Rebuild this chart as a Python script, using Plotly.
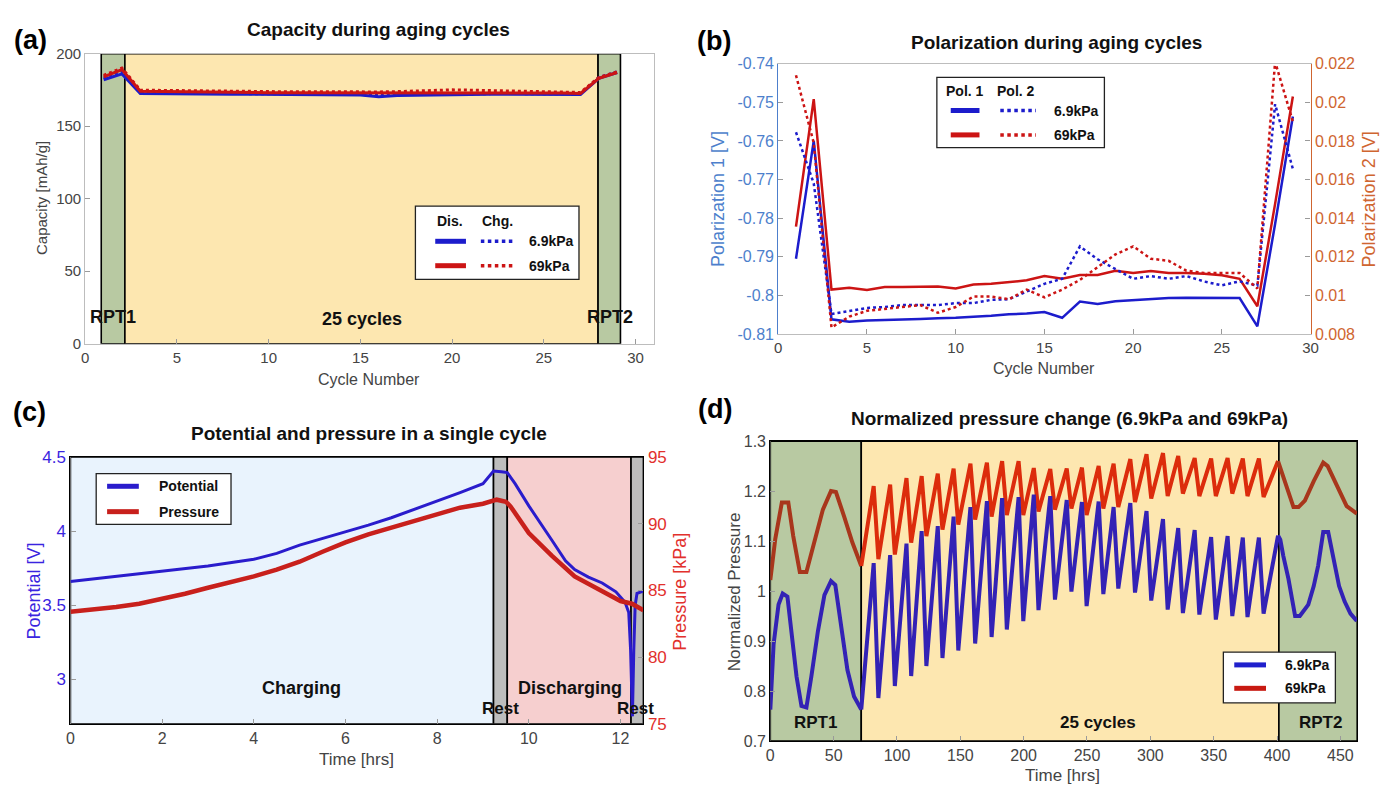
import plotly.graph_objects as go

W, H = 1387, 793
FONT = "Liberation Sans, Arial, sans-serif"
BOLD_FONT = "Liberation Sans, Arial, sans-serif"


def px(x):
    return x / W


def py(y):
    return 1 - y / H


# ---------------- (a) Capacity during aging cycles ----------------
cycles_a = list(range(1, 30))
cap_dis_69k = [182, 186, 172.5, 172.3, 172.2, 172.1, 172.0, 172.0, 172.0, 171.9, 171.9, 171.8, 171.8, 171.7, 171.5,
               170.3, 171.2, 171.3, 171.6, 171.8, 171.9, 172.0, 172.0, 172.0, 171.9, 171.8, 171.8, 183.0, 187.0]
cap_chg_69k = [183, 187.5, 173.0, 172.8, 172.7, 172.6, 172.5, 172.5, 172.4, 172.4, 172.4, 172.3, 172.3, 172.2, 172.0,
               171.0, 171.8, 172.0, 172.2, 172.3, 172.4, 172.5, 172.5, 172.4, 172.4, 172.3, 172.3, 183.5, 187.5]
cap_dis_69 = [184, 189, 174.0, 173.8, 173.6, 173.5, 173.4, 173.3, 173.2, 173.1, 173.0, 173.0, 173.0, 172.9, 172.9,
              172.8, 172.9, 173.0, 173.2, 173.3, 173.3, 173.2, 173.1, 173.0, 172.9, 172.8, 172.5, 183.0, 187.0]
cap_chg_69 = [185, 190, 174.8, 174.6, 174.4, 174.3, 174.2, 174.0, 173.9, 173.8, 173.7, 173.7, 173.6, 173.6, 173.5,
              173.6, 173.8, 174.2, 174.6, 175.0, 174.8, 174.6, 174.2, 174.0, 173.8, 173.5, 173.2, 183.5, 187.5]
a_phase_edges = [0.87, 2.16, 27.96, 29.18]

# ---------------- (b) Polarization during aging cycles ----------------
cycles_b = list(range(1, 30))
pol1_69k = [-0.7905, -0.7600, -0.8062, -0.8068, -0.8065, -0.8064, -0.8063, -0.8061, -0.8059, -0.8058, -0.8055,
            -0.8053, -0.8049, -0.8047, -0.8043, -0.8058, -0.8016, -0.8022, -0.8015, -0.8012, -0.8010, -0.8007,
            -0.8006, -0.8006, -0.8006, -0.8007, -0.8080, -0.7815, -0.7537]
pol1_69 = [-0.7822, -0.7492, -0.7985, -0.7980, -0.7986, -0.7978, -0.7978, -0.7977, -0.7977, -0.7982, -0.7972,
           -0.7970, -0.7965, -0.7961, -0.7950, -0.7957, -0.7947, -0.7947, -0.7936, -0.7942, -0.7937, -0.7942,
           -0.7942, -0.7944, -0.7948, -0.7957, -0.8028, -0.7763, -0.7485]
pol2_69k = [0.01845, 0.0158, 0.00904, 0.0092, 0.00935, 0.0094, 0.0095, 0.0095, 0.0095, 0.0096, 0.0096, 0.00977,
            0.0098, 0.0102, 0.0106, 0.01086, 0.01254, 0.01187, 0.01136, 0.01086, 0.0110, 0.01086, 0.0110, 0.01072,
            0.01052, 0.01073, 0.0105, 0.0199, 0.01655]
pol2_69 = [0.0214, 0.0179, 0.00834, 0.0089, 0.0092, 0.0093, 0.0094, 0.0095, 0.0091, 0.0094, 0.00994, 0.00994,
           0.0098, 0.0103, 0.0099, 0.0103, 0.0108, 0.01145, 0.01212, 0.01254, 0.0119, 0.01179, 0.01128, 0.01116,
           0.01116, 0.01116, 0.01036, 0.0221, 0.0190]

# ---------------- (c) Potential and pressure in a single cycle ----------------
pot_t = [0, 1, 2, 3, 4, 4.5, 5, 5.5, 6, 6.5, 7, 7.5, 8, 8.5, 9, 9.23, 9.4, 9.53, 9.7, 10.0, 10.5, 10.8, 11.0,
         11.3, 11.6, 11.9, 12.1, 12.18, 12.22, 12.26, 12.29, 12.32, 12.36, 12.5]
pot_v = [3.66, 3.695, 3.73, 3.765, 3.81, 3.85, 3.905, 3.95, 3.99, 4.04, 4.09, 4.145, 4.2, 4.26, 4.32, 4.405, 4.40,
         4.395, 4.32, 4.17, 3.94, 3.80, 3.74, 3.69, 3.65, 3.59, 3.52, 3.45, 3.2, 2.75, 3.2, 3.5, 3.58, 3.595]
pres_t = [0, 0.5, 1, 1.5, 2, 2.5, 3, 3.5, 4, 4.5, 5, 5.5, 6, 6.5, 7, 7.5, 8, 8.5, 9, 9.3, 9.5, 9.6, 10.0, 10.5,
          11.0, 11.5, 12.0, 12.25, 12.5]
pres_kpa = [83.4, 83.55, 83.75, 84.0, 84.35, 84.75, 85.2, 85.6, 86.05, 86.55, 87.15, 87.9, 88.6, 89.2, 89.7, 90.2,
            90.7, 91.2, 91.5, 91.8, 91.65, 91.3, 89.3, 87.6, 86.05, 85.1, 84.2, 84.0, 83.5]
c_phase_edges = [0, 9.23, 9.53, 12.23, 12.5]

# ---------------- (d) Normalized pressure change ----------------
rpt1_t_blue = [0, 2.6, 6.5, 9.8, 13.5, 16.8, 20.7, 24.6, 28.5, 32.4, 37.6, 42.7, 47.9, 51.3, 55.7, 60.9, 66.1, 71.8]
rpt1_blue = [0.763, 0.894, 0.973, 0.995, 0.989, 0.92, 0.829, 0.77, 0.767, 0.829, 0.92, 0.992, 1.02, 1.012, 0.933,
             0.842, 0.789, 0.763]
rpt1_t_red = [0, 3.9, 9.1, 14.2, 18.1, 23.3, 28.5, 35.0, 41.5, 47.9, 51.8, 58.3, 64.8, 71.8]
rpt1_red = [1.022, 1.104, 1.177, 1.177, 1.11, 1.038, 1.038, 1.104, 1.163, 1.2, 1.198, 1.149, 1.097, 1.05]

peak_t = [81.6, 94.6, 107.5, 119.5, 132.2, 144.7, 158.0, 171.0, 183.0, 196.0, 208.0, 221.0, 234.0, 246.0, 259.2,
          271.0, 284.2, 297.0, 310.0, 322.0, 335.0, 348.0, 361.0, 373.0, 385.7]
trough_t = [85.3, 98.3, 111.2, 123.2, 135.9, 148.4, 161.7, 174.7, 186.7, 199.7, 211.7, 224.7, 237.7, 249.7, 262.9,
            274.7, 287.9, 300.7, 313.7, 325.7, 338.7, 351.7, 364.7, 376.7, 389.4]
blue_peak = [1.056, 1.072, 1.095, 1.12, 1.13, 1.149, 1.168, 1.18, 1.186, 1.188, 1.193, 1.19, 1.182, 1.178, 1.179,
             1.168, 1.176, 1.16, 1.144, 1.126, 1.122, 1.108, 1.11, 1.107, 1.107]
blue_trough = [0.786, 0.81, 0.83, 0.85, 0.866, 0.881, 0.895, 0.908, 0.923, 0.94, 0.962, 0.983, 0.999, 0.97, 0.994,
               1.005, 0.997, 0.981, 0.963, 0.956, 0.953, 0.943, 0.95, 0.948, 0.955]
red_peak = [1.21, 1.213, 1.226, 1.23, 1.235, 1.245, 1.255, 1.257, 1.26, 1.26, 1.246, 1.244, 1.245, 1.247, 1.25,
            1.255, 1.264, 1.274, 1.276, 1.27, 1.266, 1.265, 1.266, 1.265, 1.265]
red_trough = [1.064, 1.073, 1.097, 1.11, 1.123, 1.133, 1.143, 1.149, 1.152, 1.152, 1.159, 1.163, 1.165, 1.152,
              1.165, 1.168, 1.178, 1.185, 1.19, 1.195, 1.19, 1.19, 1.195, 1.19, 1.188]

rpt2_t_blue = [400.8, 402.6, 405.0, 409.0, 414.3, 418.0, 424.7, 429.0, 432.5, 436.5, 440.4, 445.6, 449.0, 453.4,
               458.0, 463.0]
rpt2_blue = [1.111, 1.103, 1.07, 1.025, 0.95, 0.95, 0.973, 1.01, 1.051, 1.118, 1.118, 1.051, 1.01, 0.979, 0.955,
             0.94]
rpt2_t_red = [400.8, 406.5, 413.0, 417.0, 422.0, 429.0, 436.5, 440.0, 448.0, 455.0, 463.0]
rpt2_red = [1.26, 1.214, 1.168, 1.168, 1.181, 1.22, 1.257, 1.25, 1.208, 1.17, 1.155]
d_phase_edges = [0, 71.8, 401.5, 463.3]

# ---------------- colours ----------------
BLUE = "#1c1ccc"
RED = "#cc1414"
GREEN_BG = "#b8c9a2"
YELLOW_BG = "#fde7b0"
LBLUE_BG = "#e9f3fd"
PINK_BG = "#f6cfcf"
GREY_BG = "#bdbdbd"
D_BLUE = "#3322b5"
D_RED = "#dc2c0c"
D_RED_RPT = "#a8361c"
B_LEFT = "#4d7fcc"
B_RIGHT = "#cf6530"
C_LEFT = "#3a24e0"
C_RIGHT = "#e2302c"

fig = go.Figure()

# (a) traces
fig.add_trace(go.Scatter(x=cycles_a, y=cap_dis_69k, mode="lines", line=dict(color=BLUE, width=3), xaxis="x", yaxis="y"))
fig.add_trace(go.Scatter(x=cycles_a, y=cap_chg_69k, mode="lines", line=dict(color=BLUE, width=3, dash="dot"), xaxis="x", yaxis="y"))
fig.add_trace(go.Scatter(x=cycles_a, y=cap_dis_69, mode="lines", line=dict(color=RED, width=3), xaxis="x", yaxis="y"))
fig.add_trace(go.Scatter(x=cycles_a, y=cap_chg_69, mode="lines", line=dict(color=RED, width=3, dash="dot"), xaxis="x", yaxis="y"))

# (b) traces
fig.add_trace(go.Scatter(x=cycles_b, y=pol1_69k, mode="lines", line=dict(color=BLUE, width=2.5), xaxis="x2", yaxis="y2"))
fig.add_trace(go.Scatter(x=cycles_b, y=pol1_69, mode="lines", line=dict(color=RED, width=2.5), xaxis="x2", yaxis="y2"))
fig.add_trace(go.Scatter(x=cycles_b, y=pol2_69k, mode="lines", line=dict(color=BLUE, width=2.5, dash="dot"), xaxis="x2", yaxis="y3"))
fig.add_trace(go.Scatter(x=cycles_b, y=pol2_69, mode="lines", line=dict(color=RED, width=2.5, dash="dot"), xaxis="x2", yaxis="y3"))

# (c) traces
fig.add_trace(go.Scatter(x=pres_t, y=pres_kpa, mode="lines", line=dict(color="#c8201c", width=4.5), xaxis="x3", yaxis="y5"))
fig.add_trace(go.Scatter(x=pot_t, y=pot_v, mode="lines", line=dict(color="#2a1ccc", width=3), xaxis="x3", yaxis="y4"))

# (d) traces: interleave troughs/peaks of the 25 aging cycles
cyc_t, cyc_b, cyc_r = [rpt1_t_blue[-1]], [rpt1_blue[-1]], [rpt1_red[-1]]
for i in range(len(peak_t)):
    cyc_t += [peak_t[i], trough_t[i]]
    cyc_b += [blue_peak[i], blue_trough[i]]
    cyc_r += [red_peak[i], red_trough[i]]
cyc_t.append(rpt2_t_blue[0])
cyc_b.append(rpt2_blue[0])
cyc_r.append(rpt2_red[0])

for xs, ys, col in [(rpt1_t_red, rpt1_red, D_RED_RPT), (cyc_t, cyc_r, D_RED), (rpt2_t_red, rpt2_red, D_RED_RPT),
                    (rpt1_t_blue, rpt1_blue, D_BLUE), (cyc_t, cyc_b, D_BLUE), (rpt2_t_blue, rpt2_blue, D_BLUE)]:
    fig.add_trace(go.Scatter(x=xs, y=ys, mode="lines", line=dict(color=col, width=4), xaxis="x4", yaxis="y6"))

shapes = []


def band(xref, yref, x0, x1, y0, y1, color):
    shapes.append(dict(type="rect", xref=xref, yref=yref, x0=x0, x1=x1, y0=y0, y1=y1, fillcolor=color,
                       line=dict(color="black", width=1.6), layer="below"))


# (a) phases
band("x", "y", a_phase_edges[0], a_phase_edges[1], 0, 200, GREEN_BG)
band("x", "y", a_phase_edges[1], a_phase_edges[2], 0, 200, YELLOW_BG)
band("x", "y", a_phase_edges[2], a_phase_edges[3], 0, 200, GREEN_BG)
# (c) phases
c_cols = [LBLUE_BG, GREY_BG, PINK_BG, GREY_BG]
for i in range(4):
    band("x3", "y4", c_phase_edges[i], c_phase_edges[i + 1], 2.7, 4.5, c_cols[i])
# (d) phases
d_cols = [GREEN_BG, YELLOW_BG, GREEN_BG]
for i in range(3):
    band("x4", "y6", d_phase_edges[i], d_phase_edges[i + 1], 0.7, 1.3, d_cols[i])

annotations = []


def text(x, y, s, size=15, color="#444", bold=False, angle=0, xanchor="center", family=FONT, xref="paper", yref="paper"):
    annotations.append(dict(x=x, y=y, xref=xref, yref=yref, text=("<b>%s</b>" % s) if bold else s,
                            showarrow=False, textangle=angle, xanchor=xanchor, yanchor="middle",
                            font=dict(size=size, color=color, family=family)))


def legend_box(x0, y0, x1, y1):
    shapes.append(dict(type="rect", xref="paper", yref="paper", x0=px(x0), x1=px(x1), y0=py(y0), y1=py(y1),
                       fillcolor="white", line=dict(color="#222", width=1.3), layer="above"))


def legend_line(x0, x1, y, color, dash="solid", width=4):
    shapes.append(dict(type="line", xref="paper", yref="paper", x0=px(x0), x1=px(x1), y0=py(y), y1=py(y),
                       line=dict(color=color, width=width, dash=dash), layer="above"))


# panel labels
for lab, x, y in [("(a)", 27, 32), ("(b)", 716, 33), ("(c)", 26, 413), ("(d)", 717, 410)]:
    text(px(x), py(y), lab, size=27, color="black", bold=True, family=BOLD_FONT)

# titles
text(px(378), py(21), "Capacity during aging cycles", size=19, color="#111", bold=True)
text(px(1062), py(34), "Polarization during aging cycles", size=19, color="#111", bold=True)
text(px(368), py(435), "Potential and pressure in a single cycle", size=19, color="#111", bold=True)
text(px(1075), py(420), "Normalized pressure change (6.9kPa and 69kPa)", size=19, color="#111", bold=True)

# axis titles
text(px(38), py(194), "Capacity [mAh/g]", size=15, angle=-90)
text(px(368), py(380), "Cycle Number", size=16)
text(px(721), py(195), "Polarization 1 [V]", size=18, color=B_LEFT, angle=-90)
text(px(1377), py(195), "Polarization 2 [V]", size=18, color=B_RIGHT, angle=-90)
text(px(1049), py(368), "Cycle Number", size=16)
text(px(30), py(596), "Potential [V]", size=18, color=C_LEFT, angle=-90)
text(px(682), py(597), "Pressure [kPa]", size=18, color=C_RIGHT, angle=-90)
text(px(356), py(769), "Time [hrs]", size=17)
text(px(737), py(597), "Normalized Pressure", size=17, angle=-90)
text(px(1068), py(785), "Time [hrs]", size=17)

# in-plot labels
text(1.5, 18.8, "RPT1", size=18, color="#111", bold=True, xref="x", yref="y")
text(15.1, 16.8, "25 cycles", size=18, color="#111", bold=True, xref="x", yref="y")
text(28.6, 18.8, "RPT2", size=18, color="#111", bold=True, xref="x", yref="y")
text(5.04, 2.94, "Charging", size=18, color="#111", bold=True, xref="x3", yref="y4")
text(10.9, 2.94, "Discharging", size=18, color="#111", bold=True, xref="x3", yref="y4")
text(9.39, 2.805, "Rest", size=17, color="#111", bold=True, xref="x3", yref="y4")
text(12.33, 2.805, "Rest", size=17, color="#111", bold=True, xref="x3", yref="y4")
text(35.9, 0.737, "RPT1", size=17, color="#111", bold=True, xref="x4", yref="y6")
text(258.6, 0.737, "25 cycles", size=17, color="#111", bold=True, xref="x4", yref="y6")
text(434.4, 0.737, "RPT2", size=17, color="#111", bold=True, xref="x4", yref="y6")

# legend (a)
legend_box(415, 202, 580, 277)
text(px(450), py(217), "Dis.", size=14, color="#111", bold=True)
text(px(498), py(217), "Chg.", size=14, color="#111", bold=True)
legend_line(435, 466, 238, BLUE, width=5)
legend_line(481, 516, 238, BLUE, dash="dot", width=3.5)
text(px(528), py(238), "6.9kPa", size=14, color="#111", bold=True, xanchor="left")
legend_line(435, 466, 263, RED, width=5)
legend_line(481, 516, 263, RED, dash="dot", width=3.5)
text(px(528), py(263), "69kPa", size=14, color="#111", bold=True, xanchor="left")

# legend (b)
legend_box(941, 70, 1110, 142)
text(px(969), py(84), "Pol. 1", size=14, color="#111", bold=True)
text(px(1021), py(84), "Pol. 2", size=14, color="#111", bold=True)
legend_line(955, 984, 104, BLUE, width=5)
legend_line(1005, 1041, 104, BLUE, dash="dot", width=3.5)
text(px(1057), py(104), "6.9kPa", size=14, color="#111", bold=True, xanchor="left")
legend_line(955, 984, 129, RED, width=5)
legend_line(1005, 1041, 129, RED, dash="dot", width=3.5)
text(px(1057), py(129), "69kPa", size=14, color="#111", bold=True, xanchor="left")

# legend (c)
legend_box(93, 476, 229, 528)
legend_line(104, 136, 489, "#2a1ccc", width=5)
text(px(154), py(489), "Potential", size=14, color="#111", bold=True, xanchor="left")
legend_line(104, 136, 515, "#c8201c", width=5)
text(px(154), py(515), "Pressure", size=14, color="#111", bold=True, xanchor="left")

# legend (d)
legend_box(1230, 659, 1343, 711)
legend_line(1241, 1273, 672, "#2020cc", width=5)
text(px(1290), py(672), "6.9kPa", size=14, color="#111", bold=True, xanchor="left")
legend_line(1241, 1273, 696, "#c81a12", width=5)
text(px(1290), py(696), "69kPa", size=14, color="#111", bold=True, xanchor="left")


def axis(domain, rng, tickvals, ticktext=None, color="#444", linecolor="#bdbdbd", mirror=True, size=15, **kw):
    d = dict(domain=domain, range=rng, showgrid=False, zeroline=False, ticks="inside", ticklen=5,
             tickcolor="#9a9a9a", tickvals=tickvals, tickfont=dict(size=size, color=color, family=FONT),
             showline=True, linecolor=linecolor, linewidth=1.2, mirror=mirror, fixedrange=True)
    if ticktext is not None:
        d["ticktext"] = ticktext
    d.update(kw)
    return d


dom_a_x, dom_a_y = [px(82), px(655.5)], [py(343), py(45.7)]
dom_b_x, dom_b_y = [px(781), px(1318)], [py(333), py(56)]
dom_c_x, dom_c_y = [px(67), px(645)], [py(732.3), py(459)]
dom_d_x, dom_d_y = [px(773), px(1365)], [py(750), py(442.7)]

b_left_vals = [-0.81, -0.80, -0.79, -0.78, -0.77, -0.76, -0.75, -0.74]
b_left_txt = ["-0.81", "-0.8", "-0.79", "-0.78", "-0.77", "-0.76", "-0.75", "-0.74"]
b_right_vals = [0.008, 0.010, 0.012, 0.014, 0.016, 0.018, 0.020, 0.022]
b_right_txt = ["0.008", "0.01", "0.012", "0.014", "0.016", "0.018", "0.02", "0.022"]

fig.update_layout(
    width=W, height=H, margin=dict(l=0, r=0, t=0, b=0), showlegend=False,
    paper_bgcolor="white", plot_bgcolor="white",
    xaxis=axis(dom_a_x, [0, 31], [0, 5, 10, 15, 20, 25, 30], anchor="y"),
    yaxis=axis(dom_a_y, [0, 200], [0, 50, 100, 150, 200], anchor="x"),
    xaxis2=axis(dom_b_x, [0, 30], [0, 5, 10, 15, 20, 25, 30], anchor="y2"),
    yaxis2=axis(dom_b_y, [-0.81, -0.74], b_left_vals, b_left_txt, color=B_LEFT, linecolor=B_LEFT,
                mirror=False, anchor="x2", size=16),
    yaxis3=axis(dom_b_y, [0.008, 0.022], b_right_vals, b_right_txt, color=B_RIGHT, linecolor=B_RIGHT,
                mirror=False, anchor="x2", overlaying="y2", side="right", size=16),
    xaxis3=axis(dom_c_x, [0, 12.5], [0, 2, 4, 6, 8, 10, 12], linecolor="black", anchor="y4", size=16),
    yaxis4=axis(dom_c_y, [2.7, 4.5], [3, 3.5, 4, 4.5], color=C_LEFT, linecolor="black", mirror=False,
                anchor="x3", size=17),
    yaxis5=axis(dom_c_y, [75, 95], [75, 80, 85, 90, 95], color=C_RIGHT, linecolor="black", mirror=False,
                anchor="x3", overlaying="y4", side="right", size=17),
    xaxis4=axis(dom_d_x, [0, 463.3], [0, 50, 100, 150, 200, 250, 300, 350, 400, 450], linecolor="black",
                anchor="y6", size=16),
    yaxis6=axis(dom_d_y, [0.7, 1.3], [0.7, 0.8, 0.9, 1.0, 1.1, 1.2, 1.3],
                ["0.7", "0.8", "0.9", "1", "1.1", "1.2", "1.3"], linecolor="black", anchor="x4", size=16),
    shapes=shapes, annotations=annotations,
)

fig.write_html("out.html")
